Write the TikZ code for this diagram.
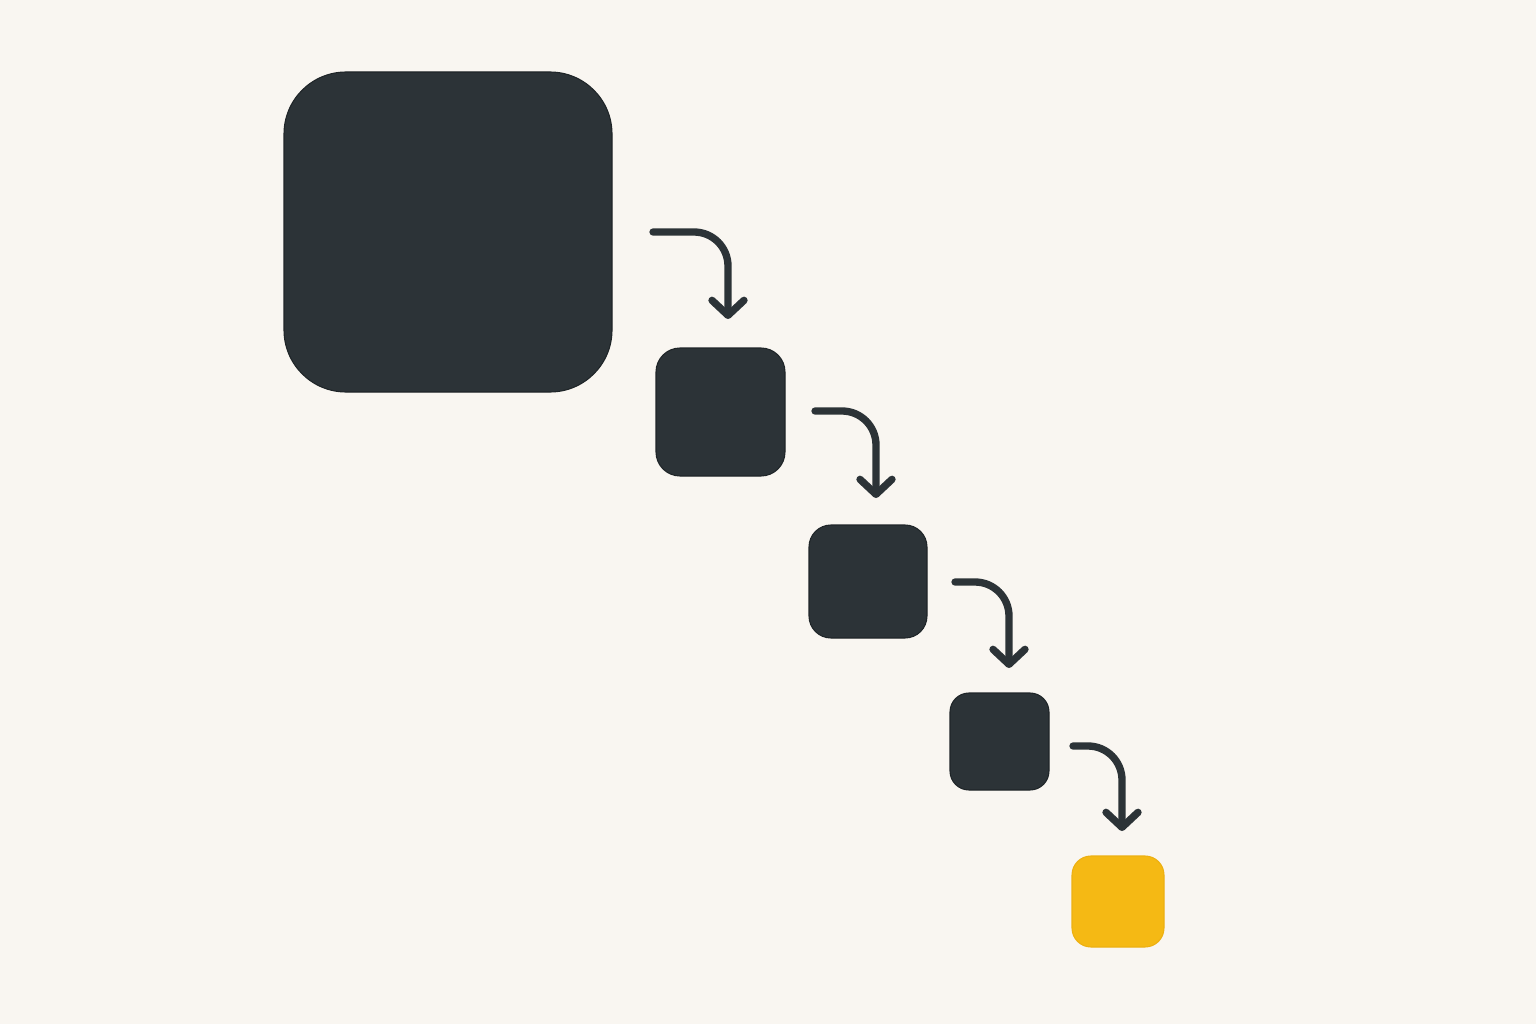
\documentclass[tikz,border=0pt]{standalone}
\usetikzlibrary{arrows.meta}
\definecolor{bg}{HTML}{F9F6F1}
\definecolor{dark}{HTML}{2C3337}
\definecolor{darkedge}{HTML}{1F2528}
\definecolor{gold}{HTML}{F5B914}
\definecolor{goldedge}{HTML}{EDB012}
\def\px{0.75pt}
\tikzset{
  blk/.style={rectangle, inner sep=0pt, fill=dark, draw=darkedge, line width=0.8pt},
  goal/.style={rectangle, inner sep=0pt, fill=gold, draw=goldedge, line width=0.8pt},
  flow/.style={draw=dark, line width=5.5pt, line cap=round, line join=round, rounded corners=34*\px,
    -{Straight Barb[length=15*\px, width=32*\px, line cap=round, line join=round]}}
}
\begin{document}
\begin{tikzpicture}[x=0.75pt, y=-0.75pt]
\fill[bg] (0,0) rectangle (1536,1024);
\useasboundingbox (0,0) rectangle (1536,1024);
\node[blk, minimum width=328*\px, minimum height=320*\px, rounded corners=62*\px] (a) at (448,232) {};
\node[blk, minimum width=129*\px, minimum height=128*\px, rounded corners=24*\px] (b) at (720.5,412) {};
\node[blk, minimum width=118*\px, minimum height=113*\px, rounded corners=22*\px] (c) at (868,581.5) {};
\node[blk, minimum width=99*\px, minimum height=97*\px, rounded corners=19*\px] (d) at (999.5,741.5) {};
\node[goal, minimum width=92*\px, minimum height=91*\px, rounded corners=19*\px] (e) at (1118,901.5) {};
\coordinate (s1) at (653,232);  \coordinate (t1) at (728,319);
\coordinate (s2) at (815,411);  \coordinate (t2) at (876,498);
\coordinate (s3) at (955,582);  \coordinate (t3) at (1009,668);
\coordinate (s4) at (1073,746); \coordinate (t4) at (1122,831);
\draw[flow] (s1) -| (t1);
\draw[flow] (s2) -| (t2);
\draw[flow] (s3) -| (t3);
\draw[flow] (s4) -| (t4);
\end{tikzpicture}
\end{document}
